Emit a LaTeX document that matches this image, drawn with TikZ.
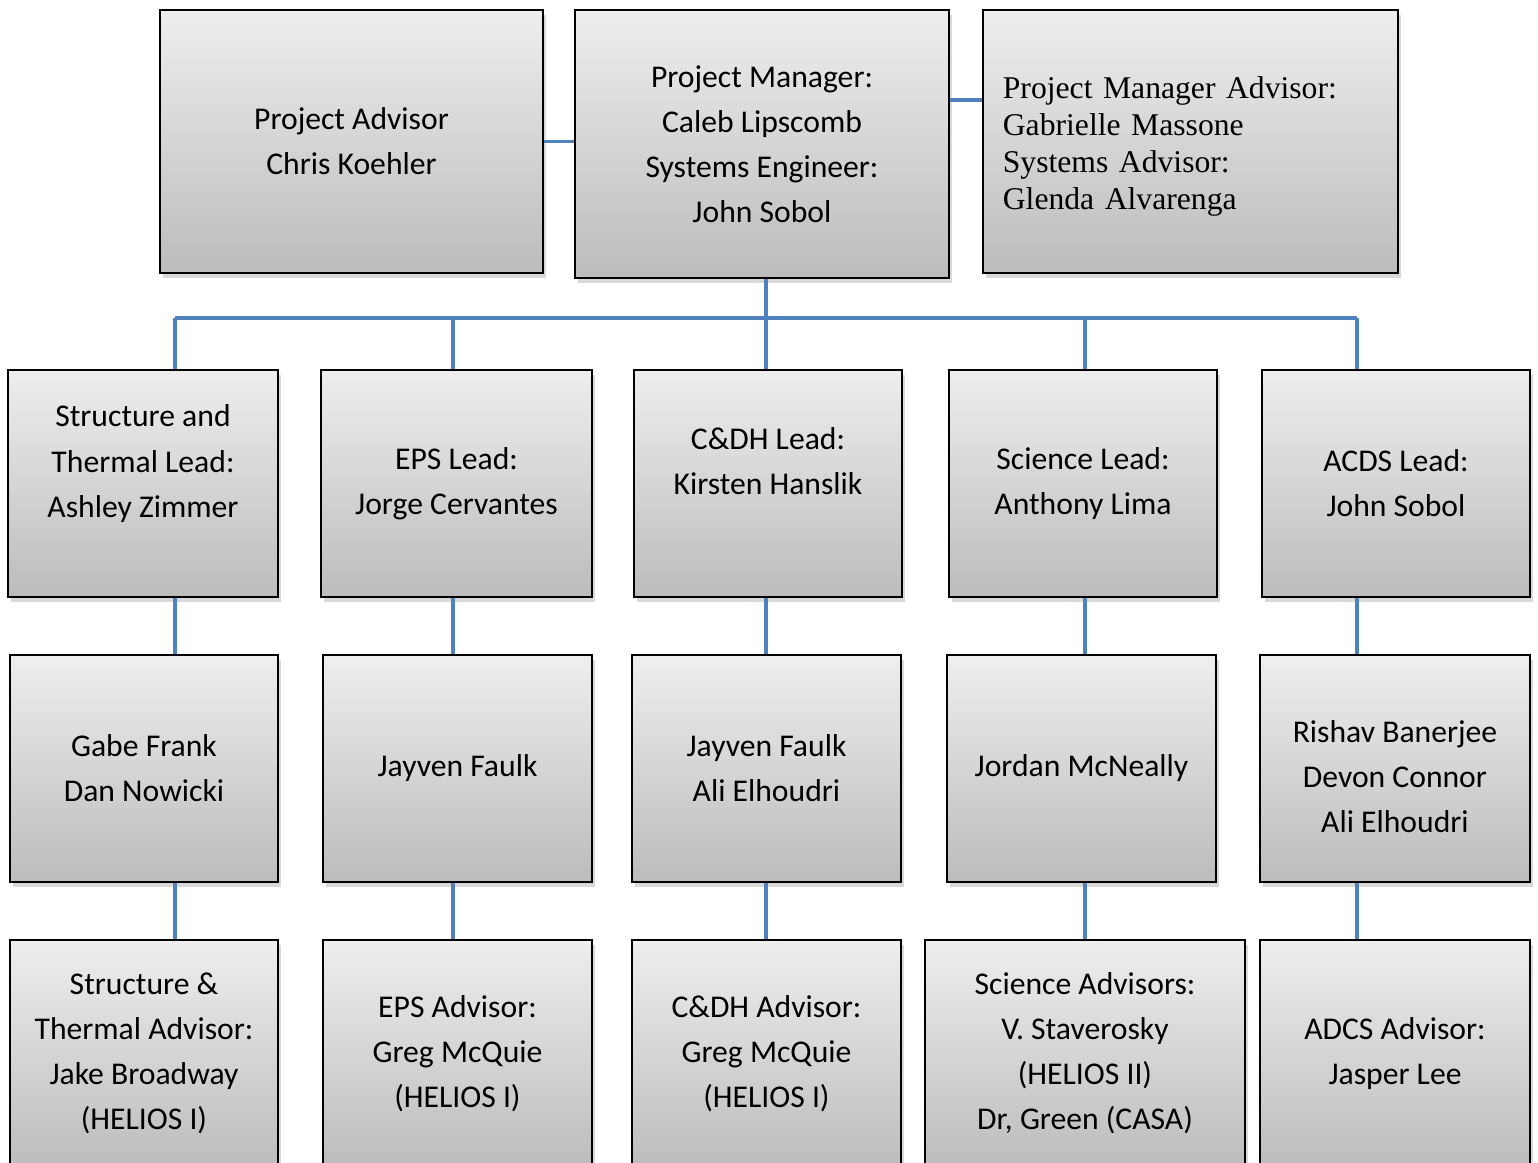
\documentclass[tikz,border=0pt]{standalone}
\usepackage{fontspec}
\setmainfont{Carlito}
\newfontfamily\advisorfont{Liberation Serif}
\usepackage{xcolor}
\usepackage{tikz}
\usetikzlibrary{shapes,positioning,calc,shadows}

\definecolor{linkblue}{HTML}{4F81BD}
\definecolor{boxtop}{HTML}{EEEEEE}
\definecolor{boxbottom}{HTML}{BCBCBC}

\tikzset{
  orgbox/.style={rectangle, draw=black, line width=0.6pt,
    top color=boxtop, bottom color=boxbottom,
    drop shadow={shadow xshift=0.03cm, shadow yshift=-0.05cm, opacity=0.3},
    align=center, inner sep=0pt, font=\fontsize{9}{12.8}\selectfont},
  link/.style={draw=linkblue, line width=1.1pt}
}

\begin{document}
\begin{tikzpicture}[x=0.01cm, y=-0.01cm]
    \useasboundingbox (0,0) rectangle (1538,1162);
    \clip (0,0) rectangle (1538,1162);

    % Top row
    \node[orgbox, minimum width=3.83cm, minimum height=2.63cm] (pa) at (351.5,141.5) {Project Advisor\\Chris Koehler};
    \node[orgbox, minimum width=3.74cm, minimum height=2.68cm] (pm) at (762,144) {Project Manager:\\Caleb Lipscomb\\Systems Engineer:\\John Sobol};
    \node[orgbox, minimum width=4.15cm, minimum height=2.63cm, align=left, text width=3.75cm, inner xsep=0.2cm,
      font=\advisorfont\fontsize{9}{10.5}\selectfont] (pma) at (1190.5,141.5)
      {\rule{0pt}{9pt}Project Manager Advisor:\\Gabrielle Massone\\Systems Advisor:\\Glenda Alvarenga};

    % Leads
    \node[orgbox, minimum width=2.70cm, minimum height=2.27cm] (stLead) at (143,483.5) {Structure and\\Thermal Lead:\\Ashley Zimmer\\\mbox{}};
    \node[orgbox, minimum width=2.71cm, minimum height=2.27cm] (epsLead) at (456.5,483.5) {EPS Lead:\\Jorge Cervantes};
    \node[orgbox, minimum width=2.68cm, minimum height=2.27cm] (cdhLead) at (768,483.5) {C\&DH Lead:\\Kirsten Hanslik\\\mbox{}};
    \node[orgbox, minimum width=2.68cm, minimum height=2.27cm] (sciLead) at (1083,483.5) {Science Lead:\\Anthony Lima};
    \node[orgbox, minimum width=2.68cm, minimum height=2.27cm] (acdsLead) at (1396,483.5) {ACDS Lead:\\John Sobol};

    % Teams
    \node[orgbox, minimum width=2.68cm, minimum height=2.27cm] (stTeam) at (144,768.5) {Gabe Frank\\Dan Nowicki};
    \node[orgbox, minimum width=2.69cm, minimum height=2.27cm] (epsTeam) at (457.5,768.5) {Jayven Faulk};
    \node[orgbox, minimum width=2.69cm, minimum height=2.27cm] (cdhTeam) at (766.5,768.5) {Jayven Faulk\\Ali Elhoudri};
    \node[orgbox, minimum width=2.69cm, minimum height=2.27cm] (sciTeam) at (1081.5,768.5) {Jordan McNeally};
    \node[orgbox, minimum width=2.70cm, minimum height=2.27cm] (acdsTeam) at (1395,768.5) {\rule{0pt}{11pt}Rishav Banerjee\\Devon Connor\\Ali Elhoudri};

    % Advisors
    \node[orgbox, minimum width=2.68cm, minimum height=2.27cm] (stAdv) at (144,1053.5) {Structure \&\\Thermal Advisor:\\Jake Broadway\\(HELIOS I)};
    \node[orgbox, minimum width=2.69cm, minimum height=2.27cm] (epsAdv) at (457.5,1053.5) {EPS Advisor:\\Greg McQuie\\(HELIOS I)};
    \node[orgbox, minimum width=2.69cm, minimum height=2.27cm] (cdhAdv) at (766.5,1053.5) {C\&DH Advisor:\\Greg McQuie\\(HELIOS I)};
    \node[orgbox, minimum width=3.20cm, minimum height=2.27cm] (sciAdv) at (1085,1053.5) {Science Advisors:\\V. Staverosky\\(HELIOS II)\\Dr, Green (CASA)};
    \node[orgbox, minimum width=2.70cm, minimum height=2.27cm] (acdsAdv) at (1395,1053.5) {ADCS Advisor:\\Jasper Lee};

    % Links on the top row
    \draw[link] (pa.east) -- (pa.east -| pm.west);
    \draw[link] ([yshift=0.44cm]pm.east) -- ([yshift=0.44cm]pm.east -| pma.west);

    % Bus and columns
    \foreach \col/\dx in {st/175, eps/453, cdh/766, sci/1085, acds/1357} {
      \coordinate (d\col) at (\dx,318);
      \draw[link] (d\col) -- (d\col |- \col Lead.north);
      \draw[link] (d\col |- \col Lead.south) -- (d\col |- \col Team.north);
      \draw[link] (d\col |- \col Team.south) -- (d\col |- \col Adv.north);
    }
    \draw[link] (dst) -- (dacds);
    \draw[link] (dcdh |- pm.south) -- (dcdh);
\end{tikzpicture}
\end{document}
